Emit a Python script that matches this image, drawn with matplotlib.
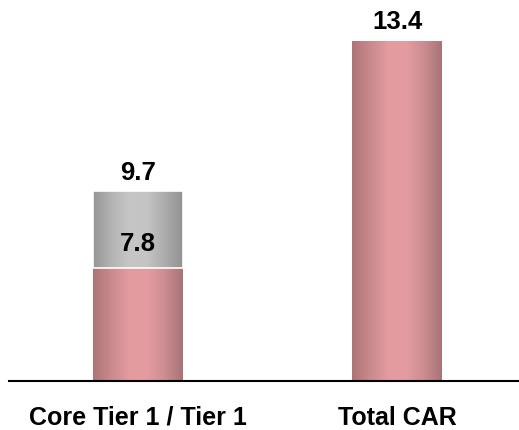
import numpy as np
import matplotlib
matplotlib.use("Agg")
import matplotlib.pyplot as plt
from matplotlib.colors import LinearSegmentedColormap

plt.rcParams["font.family"] = ["Liberation Sans", "DejaVu Sans"]

# Data
categories = ["Core Tier 1 / Tier 1", "Total CAR"]
pink_values = [7.8, 13.4]
grey_top = [9.7, None]
axis_start = 5.0

pink_cmap = LinearSegmentedColormap.from_list(
    "pink", ["#ad7476", "#c9898d", "#e39ba0", "#e49ca1", "#cc8d91", "#a87476"])
grey_cmap = LinearSegmentedColormap.from_list(
    "grey", ["#959595", "#b3b3b3", "#c6c6c6", "#c4c4c4", "#acacac", "#929292"])

fig = plt.figure(figsize=(5.19, 4.31), dpi=100)
ax = fig.add_axes([9 / 519, 49 / 431, 510 / 519, 377 / 431])

x = np.arange(len(categories))
width = 0.347
grad = np.linspace(0, 1, 256).reshape(1, -1)


def shaded_bar(xc, bottom, top, cmap, edge):
    bar = ax.bar(xc, top - bottom, width, bottom=bottom, color="none",
                 edgecolor=edge, linewidth=1.2, zorder=3)[0]
    im = ax.imshow(grad, cmap=cmap, aspect="auto", zorder=2,
                   extent=[xc - width / 2, xc + width / 2, bottom, top])
    im.set_clip_path(bar)
    return bar


for i, cat in enumerate(categories):
    shaded_bar(x[i], axis_start, pink_values[i], pink_cmap, "none")
    if grey_top[i] is not None:
        shaded_bar(x[i], pink_values[i], grey_top[i], grey_cmap, "white")
        ax.text(x[i], pink_values[i] + 0.3, f"{pink_values[i]}", ha="center",
                va="bottom", fontsize=18.5, fontweight="bold", zorder=4)
        ax.text(x[i], grey_top[i] + 0.17, f"{grey_top[i]}", ha="center",
                va="bottom", fontsize=18.5, fontweight="bold", zorder=4)
    else:
        ax.text(x[i], pink_values[i] + 0.2, f"{pink_values[i]}", ha="center",
                va="bottom", fontsize=18.5, fontweight="bold", zorder=4)

ax.set_xlim(-0.498, 1.471)
ax.set_ylim(axis_start, axis_start + 377 / 40.5)
ax.set_xticks(x)
ax.set_xticklabels(categories, fontsize=18, fontweight="bold")
ax.tick_params(axis="x", length=0, pad=17)
ax.set_yticks([])
for side in ["top", "right", "left"]:
    ax.spines[side].set_visible(False)
ax.spines["bottom"].set_linewidth(1.5)

plt.savefig("out.png", dpi=100)
